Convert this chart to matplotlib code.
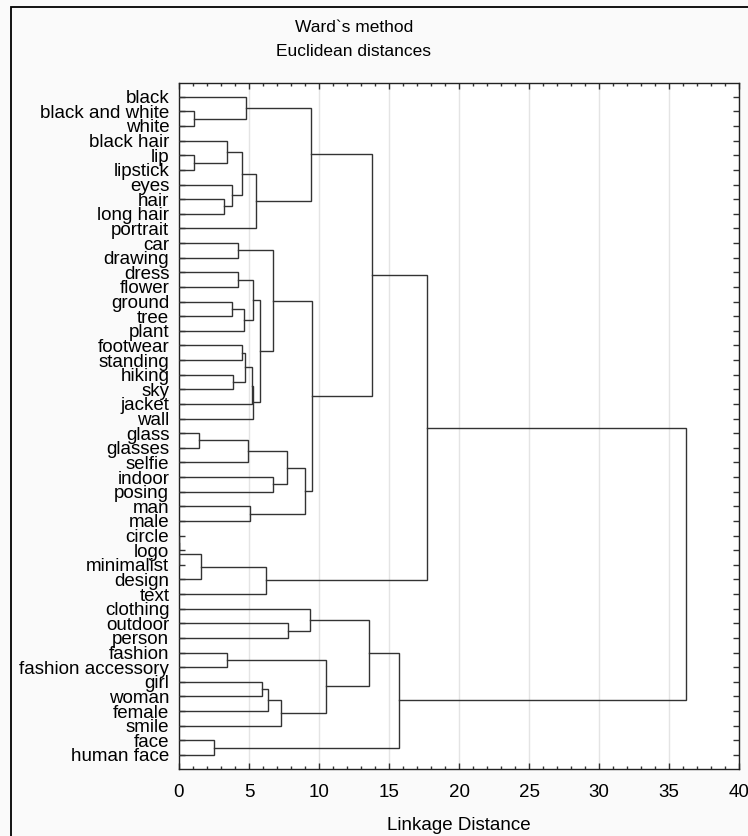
import matplotlib
matplotlib.use("Agg")
import matplotlib.pyplot as plt
from matplotlib.patches import Rectangle
from matplotlib.ticker import MultipleLocator

plt.rcParams['font.family'] = ['Liberation Sans', 'DejaVu Sans']

# leaf order, top to bottom
leaves = ['black', 'black and white', 'white', 'black hair', 'lip', 'lipstick',
          'eyes', 'hair', 'long hair', 'portrait', 'car', 'drawing', 'dress',
          'flower', 'ground', 'tree', 'plant', 'footwear', 'standing', 'hiking',
          'sky', 'jacket', 'wall', 'glass', 'glasses', 'selfie', 'indoor',
          'posing', 'man', 'male', 'circle', 'logo', 'minimalist', 'design',
          'text', 'clothing', 'outdoor', 'person', 'fashion', 'fashion accessory',
          'girl', 'woman', 'female', 'smile', 'face', 'human face']

# merges: children are leaf names or indices of earlier merges
merge_left = ['black and white', 'black', 'lip', 'black hair', 'hair', 'eyes', 3, 6, 1,
              'car', 'dress', 'ground', 11, 10, 'footwear', 'hiking', 14, 16, 17, 13, 9,
              'glass', 21, 'indoor', 22, 'man', 24, 20, 8,
              'circle', 29, 30, 31, 28,
              'outdoor', 'clothing', 'fashion', 'girl', 37, 38, 36, 35, 'face', 41, 33]
merge_right = ['white', 0, 'lipstick', 2, 'long hair', 4, 5, 'portrait', 7,
               'drawing', 'flower', 'tree', 'plant', 12, 'standing', 'sky', 15, 'jacket', 'wall', 18, 19,
               'glasses', 'selfie', 'posing', 23, 'male', 25, 26, 27,
               'logo', 'minimalist', 'design', 'text', 32,
               'person', 34, 'fashion accessory', 'woman', 'female', 'smile', 39, 40, 'human face', 42, 43]
merge_height = [1.05, 4.79, 1.05, 3.4, 3.24, 3.81, 4.52, 5.48, 9.43,
                4.24, 4.24, 3.81, 4.62, 5.31, 4.52, 3.88, 4.71, 5.19, 5.26, 5.79, 6.74,
                1.45, 4.9, 6.74, 7.74, 5.07, 8.98, 9.52, 13.8,
                0.0, 0.0, 1.57, 6.2, 17.7,
                7.81, 9.36, 3.4, 5.95, 6.38, 7.26, 10.52, 13.55, 2.5, 15.74, 36.2]

fig = plt.figure(figsize=(7.48, 8.36), dpi=100, facecolor='#fafafa')
fig.patches.append(Rectangle((11 / 748, -0.1), 1.2, 1 - 7 / 836 + 0.1,
                             transform=fig.transFigure, fill=False,
                             edgecolor='black', lw=1.3))
ax = fig.add_axes([179 / 748, 1 - 769 / 836, 560 / 748, (769 - 82.7) / 836])
ax.set_facecolor('white')

pos = {name: i for i, name in enumerate(leaves)}
hgt = {name: 0.0 for name in leaves}


def node(c):
    return ('m', c) if isinstance(c, int) else c


line_color = '#333333'
for k, (a, b, h) in enumerate(zip(merge_left, merge_right, merge_height)):
    na, nb = node(a), node(b)
    ya, yb = pos[na], pos[nb]
    ax.plot([hgt[na], h, h, hgt[nb]], [ya, ya, yb, yb], color=line_color, lw=1,
            solid_joinstyle='miter', zorder=3)
    pos[('m', k)] = (ya + yb) / 2
    hgt[('m', k)] = h

ax.set_xlim(0, 40)
ax.set_ylim(45.96, -0.96)
ax.set_yticks(range(len(leaves)))
ax.set_yticklabels(leaves, fontsize=13.5)
ax.xaxis.set_major_locator(MultipleLocator(5))
ax.xaxis.set_minor_locator(MultipleLocator(1))
ax.tick_params(axis='y', direction='in', length=4, width=1, left=True, right=True,
               pad=7, color='#333333')
ax.tick_params(axis='x', which='major', direction='in', length=4, width=1,
               top=True, bottom=True, labelsize=13.5, pad=11, color='#333333')
ax.tick_params(axis='x', which='minor', direction='in', length=2, width=1,
               top=True, bottom=True, color='#333333')
ax.grid(axis='x', which='major', color='#e4e4e4', lw=1)
ax.set_axisbelow(True)
for s in ax.spines.values():
    s.set_color('#222222')
    s.set_linewidth(1)

ax.set_xlabel('Linkage Distance', fontsize=13.5, labelpad=11)
fig.text(354 / 748, 1 - 27 / 836, 'Ward`s method', ha='center', va='center', fontsize=12.5)
fig.text(354 / 748, 1 - 51 / 836, 'Euclidean distances', ha='center', va='center', fontsize=12.5)

fig.savefig('out.png', dpi=100, facecolor=fig.get_facecolor())
